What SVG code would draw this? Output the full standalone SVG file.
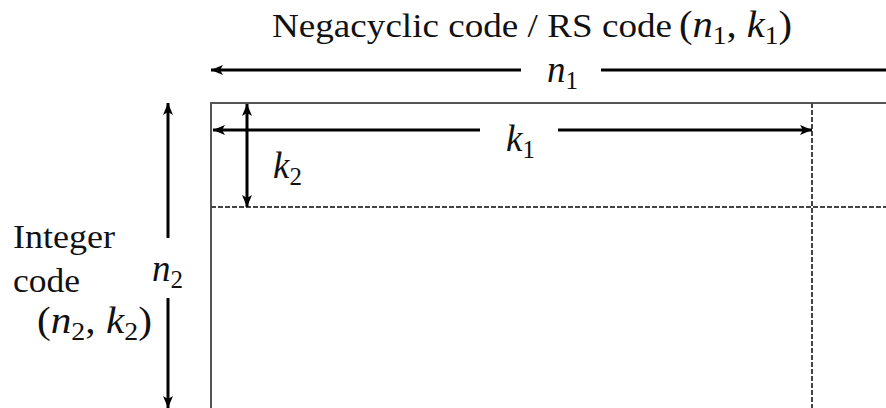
<svg xmlns="http://www.w3.org/2000/svg" width="886" height="408" viewBox="0 0 886 408">
<defs>
<style>
.txt{font-family:"Liberation Serif",Tinos,"Times New Roman",Times,serif;font-size:34px;fill:#111}
.m{font-family:"Liberation Serif",Tinos,"Times New Roman",Times,serif;font-style:italic;font-size:37px;fill:#111}
.up{font-style:normal}
.sub{font-style:normal;font-size:25px}
.frame{stroke:#555;stroke-width:2;fill:none}
.dash{stroke:#444;stroke-width:2;stroke-dasharray:5,2;fill:none}
.arr{stroke:#000;stroke-width:3;fill:none}
</style>
<marker id="ah" viewBox="0 0 12 10" refX="12" refY="5" markerWidth="12" markerHeight="10" markerUnits="userSpaceOnUse" orient="auto-start-reverse">
<path d="M0,0 L12,5 L0,10 L3,5 Z" fill="#000"/>
</marker>
</defs>
<rect width="886" height="408" fill="#fff"/>
<g id="matrix">
<path class="frame" d="M211,408 V103 H886"/>
<path class="dash" d="M812,103 V408"/>
<path class="dash" d="M211,207 H886"/>
</g>
<g id="connectors">
<path class="arr" d="M521,70 H211" marker-end="url(#ah)"/>
<path class="arr" d="M601,70 H886"/>
<path class="arr" d="M480,130 H213" marker-end="url(#ah)"/>
<path class="arr" d="M558,130 H812" marker-end="url(#ah)"/>
<path class="arr" d="M247,104 V207" marker-start="url(#ah)" marker-end="url(#ah)"/>
<path class="arr" d="M168,238 V103" marker-end="url(#ah)"/>
<path class="arr" d="M168,298 V408" marker-end="url(#ah)"/>
</g>
<g id="title">
<text class="txt" x="272" y="37" textLength="400" lengthAdjust="spacingAndGlyphs">Negacyclic code / RS code</text>
<text class="m" x="679" y="37" textLength="113" lengthAdjust="spacingAndGlyphs"><tspan class="up">(</tspan>n<tspan class="sub" dy="7">1</tspan><tspan class="up" dy="-7">, </tspan>k<tspan class="sub" dy="7">1</tspan><tspan class="up" dy="-7">)</tspan></text>
</g>
<g id="label-n1"><text class="m" x="547" y="82">n<tspan class="sub" dy="7">1</tspan></text></g>
<g id="label-k1"><text class="m" x="506" y="151">k<tspan class="sub" dy="7">1</tspan></text></g>
<g id="label-k2"><text class="m" x="273" y="178">k<tspan class="sub" dy="7">2</tspan></text></g>
<g id="label-n2"><text class="m" x="152" y="281">n<tspan class="sub" dy="7">2</tspan></text></g>
<g id="integer-code">
<text class="txt" x="13" y="248" textLength="102" lengthAdjust="spacingAndGlyphs">Integer</text>
<text class="txt" x="13" y="292" textLength="67" lengthAdjust="spacingAndGlyphs">code</text>
<text class="m" x="37" y="333" textLength="115" lengthAdjust="spacingAndGlyphs"><tspan class="up">(</tspan>n<tspan class="sub" dy="7">2</tspan><tspan class="up" dy="-7">, </tspan>k<tspan class="sub" dy="7">2</tspan><tspan class="up" dy="-7">)</tspan></text>
</g>
</svg>
